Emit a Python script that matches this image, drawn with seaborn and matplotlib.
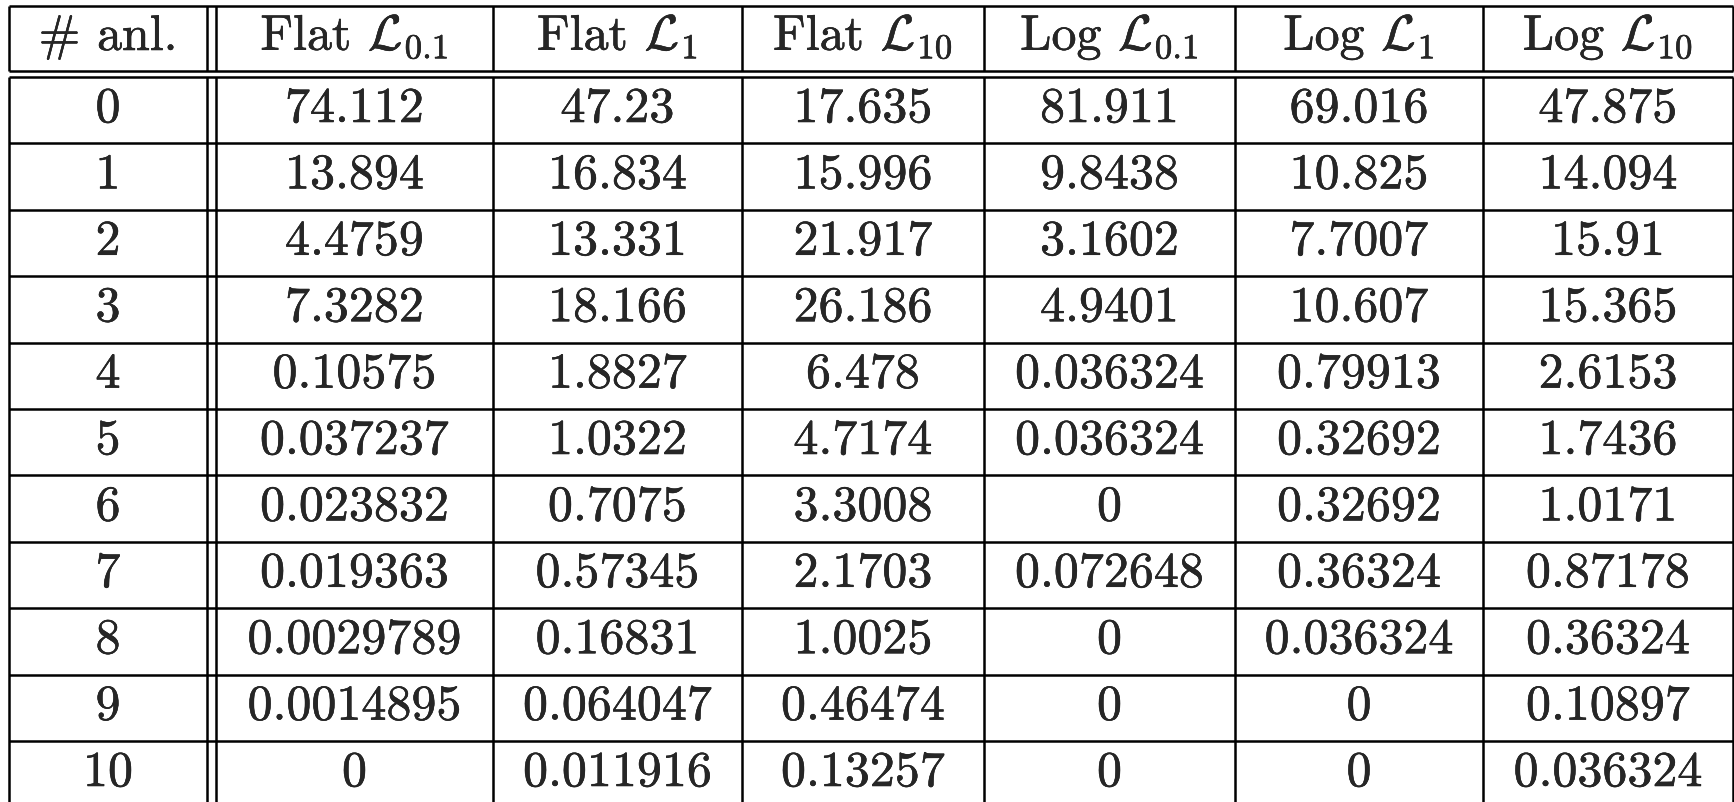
import matplotlib
matplotlib.use("Agg")
import matplotlib.pyplot as plt
import matplotlib.patheffects as pe
import seaborn as sns
import pandas as pd

# table contents
headers = ["# anl.", r"Flat $\mathcal{L}_{0.1}$", r"Flat $\mathcal{L}_{1}$", r"Flat $\mathcal{L}_{10}$",
           r"Log $\mathcal{L}_{0.1}$", r"Log $\mathcal{L}_{1}$", r"Log $\mathcal{L}_{10}$"]
anl = [0, 1, 2, 3, 4, 5, 6, 7, 8, 9, 10]
flat_01 = [74.112, 13.894, 4.4759, 7.3282, 0.10575, 0.037237, 0.023832, 0.019363, 0.0029789, 0.0014895, 0]
flat_1 = [47.23, 16.834, 13.331, 18.166, 1.8827, 1.0322, 0.7075, 0.57345, 0.16831, 0.064047, 0.011916]
flat_10 = [17.635, 15.996, 21.917, 26.186, 6.478, 4.7174, 3.3008, 2.1703, 1.0025, 0.46474, 0.13257]
log_01 = [81.911, 9.8438, 3.1602, 4.9401, 0.036324, 0.036324, 0, 0.072648, 0, 0, 0]
log_1 = [69.016, 10.825, 7.7007, 10.607, 0.79913, 0.32692, 0.32692, 0.36324, 0.036324, 0, 0]
log_10 = [47.875, 14.094, 15.91, 15.365, 2.6153, 1.7436, 1.0171, 0.87178, 0.36324, 0.10897, 0.036324]

df = pd.DataFrame({"anl": anl, "f01": flat_01, "f1": flat_1, "f10": flat_10,
                   "l01": log_01, "l1": log_1, "l10": log_10})

sns.set_style("white")
plt.rcParams["font.family"] = ["cmr10", "DejaVu Serif"]
plt.rcParams["mathtext.fontset"] = "cm"

W, H = 1734, 803
fig = plt.figure(figsize=(W / 100, H / 100), dpi=100)
ax = fig.add_axes([0, 0, 1, 1])
ax.set_xlim(0, W)
ax.set_ylim(H, 0)
ax.axis("off")

# layout (pixels)
col_edges = [9, 207, 493, 742, 984, 1235, 1483, 1733]
top, head_bot, body_top, row_h = 7, 71.5, 78, 66.4
n_rows = len(df)
bottom = body_top + n_rows * row_h
lw = 1.8
fs = 36
heavy = [pe.withStroke(linewidth=0.35, foreground="black")]

# horizontal lines
ax.hlines([top, head_bot, body_top], col_edges[0], col_edges[-1], color="black", lw=lw)
ax.hlines([body_top + i * row_h for i in range(1, n_rows + 1)], col_edges[0], col_edges[-1],
          color="black", lw=lw)

# vertical lines (broken across the double rule)
for x in col_edges + [216]:
    ax.vlines(x, top, head_bot, color="black", lw=lw)
    ax.vlines(x, body_top, bottom, color="black", lw=lw)

lefts = [col_edges[0], 216] + col_edges[2:-1]
rights = [207] + col_edges[2:]
centers = [(l + r) / 2 for l, r in zip(lefts, rights)]

# header
for c, h in zip(centers, headers):
    ax.text(c, 51, h, ha="center", va="baseline", fontsize=fs, path_effects=heavy)

# body
for i, row in df.iterrows():
    y = body_top + i * row_h + 45
    vals = [str(int(row["anl"]))] + [f"{row[k]:g}" for k in ["f01", "f1", "f10", "l01", "l1", "l10"]]
    for c, v in zip(centers, vals):
        ax.text(c, y, v, ha="center", va="baseline", fontsize=fs, path_effects=heavy)

plt.savefig("out.png", dpi=100)
